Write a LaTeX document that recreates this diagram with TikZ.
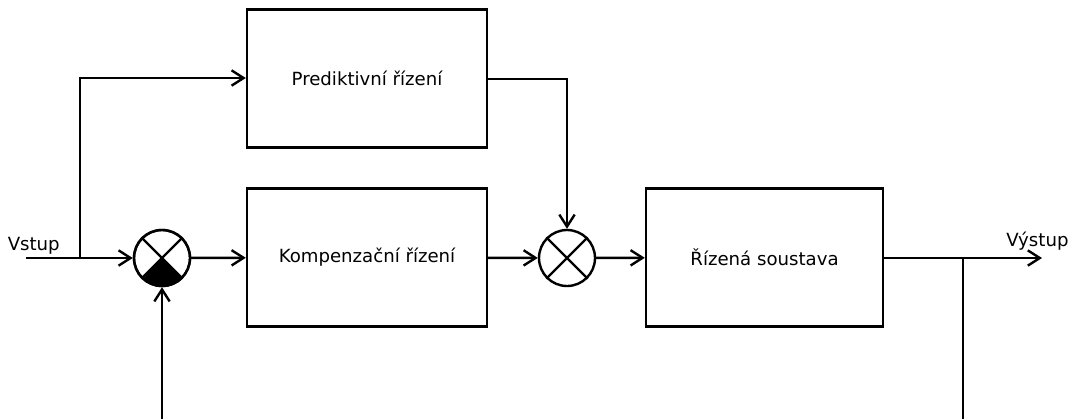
\documentclass[tikz,border=0pt]{standalone}
\usepackage{fontspec}
\setmainfont{DejaVu Sans}
\usetikzlibrary{arrows.meta}
\tikzset{
  blockbox/.style={draw, line width=1.8pt, minimum width=180pt, minimum height=103.5pt, inner sep=0pt, font=\fontsize{13.6pt}{16pt}\selectfont},
  sumnode/.style={draw, circle, line width=1.8pt, minimum size=42pt, inner sep=0pt},
  conn/.style={line width=1.8pt},
  arrowc/.style={conn, -{Straight Barb[length=9pt,width=11.5pt,line width=1.8pt]}},
  lbl/.style={inner sep=0pt, font=\fontsize{13.6pt}{16pt}\selectfont}
}
\begin{document}
\begin{tikzpicture}[x=0.75pt,y=-0.75pt]
\useasboundingbox (0,0) rectangle (1069,419);
% blocks
\node[blockbox] (pred) at (367,78.5) {Prediktivní řízení};
\node[blockbox] (komp) at (367,257.5) {Kompenzační řízení};
\node[blockbox, minimum width=177.75pt] (plant) at (764.5,257.5) {Řízená soustava};
% summing junctions
\node[sumnode] (s1) at (162,258) {};
\node[sumnode] (s2) at (567,258) {};
\fill (s1.center) -- (s1.-45) arc[start angle=-45, end angle=-135, radius=21pt] -- cycle;
\draw[conn] (s1.45) -- (s1.-135) (s1.135) -- (s1.-45);
\draw[conn] (s2.45) -- (s2.-135) (s2.135) -- (s2.-45);
\node[sumnode] at (s1) {};
% coordinates
\coordinate (in) at (26,258);
\coordinate (br) at (80,258);
\coordinate (out) at (1042,258);
\coordinate (obr) at (963,258);
\coordinate (fbR) at (963,419);
\coordinate (fbL) at (162,419);
% labels
\node[lbl, anchor=base west] (vin) at (7.5,250) {Vstup};
\node[lbl, anchor=base west] (vout) at (1006,246) {Výstup};
% connectors
\draw[arrowc] (in) -- (s1);
\draw[arrowc] (br) |- (pred.west |- 0,78);
\draw[arrowc] (s1) -- (komp);
\draw[arrowc] (komp) -- (s2);
\draw[arrowc] (s2) -- (plant);
\draw[arrowc] (pred.east |- 0,79) -| (s2);
\draw[arrowc] (plant.east |- out) -- (out);
\draw[conn] (obr) -- (fbR);
\draw[arrowc] (fbL) -- (s1);
\end{tikzpicture}
\end{document}
